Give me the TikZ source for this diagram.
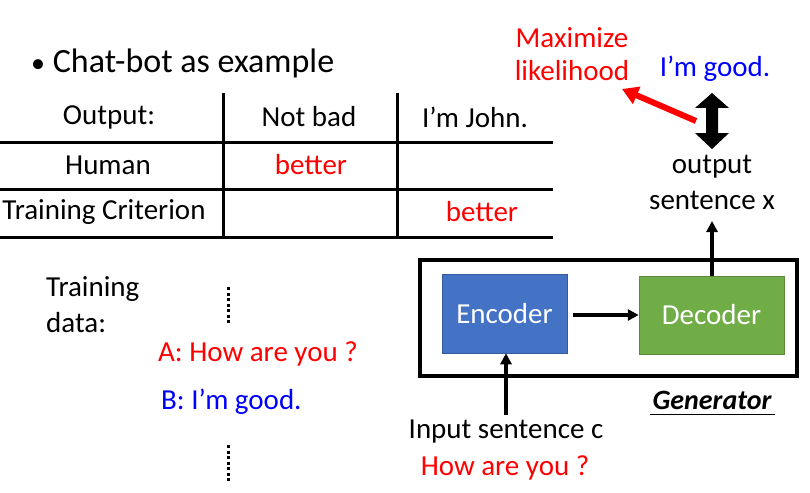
\documentclass[tikz,border=0pt]{standalone}
\usepackage{fontspec}
\setmainfont{Carlito}
\usetikzlibrary{arrows.meta}
\definecolor{encblue}{HTML}{4472C4}
\definecolor{decgreen}{HTML}{70AD47}
\definecolor{myred}{HTML}{FF0000}
\definecolor{myblue}{HTML}{0000FF}
\begin{document}
\begin{tikzpicture}[x=1pt,y=-1pt,
  txt/.style={inner sep=0pt,font=\fontsize{29}{34}\selectfont},
  redtxt/.style={txt,text=myred},
  bluetxt/.style={txt,text=myblue},
  tline/.style={line width=3pt},
  thinarrow/.style={line width=3.5pt,-{Triangle[length=11pt,width=11pt]}},
  box/.style={minimum width=#1,inner sep=0pt,text=white,font=\fontsize{29}{34}\selectfont}]
\useasboundingbox (0,0) rectangle (810,492);
% title
\node[txt,anchor=west,font=\fontsize{34}{38}\selectfont] (bul) at (31,63) {{\fontsize{28}{30}\selectfont\textbullet}\ Chat-bot as example};
% table
\draw[tline] (0,142) -- (553,142);
\draw[tline] (0,189) -- (553,189);
\draw[tline] (0,237) -- (553,237);
\draw[tline] (223,93) -- (223,237);
\draw[tline] (397,93) -- (397,237);
\node[txt] (out) at (109,117) {Output:};
\node[txt] (nb) at (309,117) {Not bad};
\node[txt] (ij) at (475,117) {I’m John.};
\node[txt] (hum) at (108,165) {Human};
\node[redtxt] (b1) at (311,165) {better};
\node[txt] (tc) at (104,212) {Training Criterion};
\node[redtxt] (b2) at (482,212) {better};
% training data
\node[txt,anchor=west] (tr) at (46,289) {Training};
\node[txt,anchor=west] (da) at (46,323) {data:};
\foreach \yy in {287,292.5,...,322} \fill (226.5,\yy) rectangle +(3,3);
\foreach \yy in {445,450.5,...,480} \fill (226.5,\yy) rectangle +(3,3);
\node[redtxt,anchor=west] (qa) at (158,354) {A: How are you ?};
\node[bluetxt,anchor=west] (qb) at (161,402) {B: I’m good.};
% generator
\draw[line width=4pt] (420,260) rectangle (797,376);
\node[box=125pt,minimum height=79pt,fill=encblue,draw=encblue!80!black,line width=0.5pt] (enc) at (504.5,313.5) {Encoder};
\node[box=145pt,minimum height=78pt,fill=decgreen,draw=decgreen!80!black,line width=0.5pt] (dec) at (711.5,315) {Decoder};
\draw[thinarrow] (573,315) -- (dec.west);
\node[txt,font=\fontsize{28}{32}\selectfont\bfseries\itshape] (gen) at (712,400) {Generator};
\draw[line width=1pt] (650,414) -- (775,414);
\node[txt] (inp) at (506,432) {Input sentence c};
\node[redtxt] (how) at (505,468) {How are you ?};
\draw[thinarrow] (506,415) -- (enc.south -| 506,0);
\node[txt] (o1) at (712,167) {output};
\node[txt] (o2) at (712,200) {sentence x};
\draw[thinarrow] (dec.north -| 712,0) -- (712,221);
% top right
\node[redtxt] (max1) at (572,38) {Maximize};
\node[redtxt] (max2) at (572,71) {likelihood};
\node[bluetxt] (good) at (715,69) {I’m good.};
\fill (712,93) -- (729,108) -- (718,108) -- (718,133) -- (729,133) -- (712,149)
  -- (695,133) -- (706,133) -- (706,108) -- (695,108) -- cycle;
\coordinate (rtail) at (696,121);
\coordinate (rhead) at (622,89);
\draw[myred,line width=6pt,-{Triangle[length=16pt,width=18pt]}] (rtail) -- (rhead);
\end{tikzpicture}
\end{document}
